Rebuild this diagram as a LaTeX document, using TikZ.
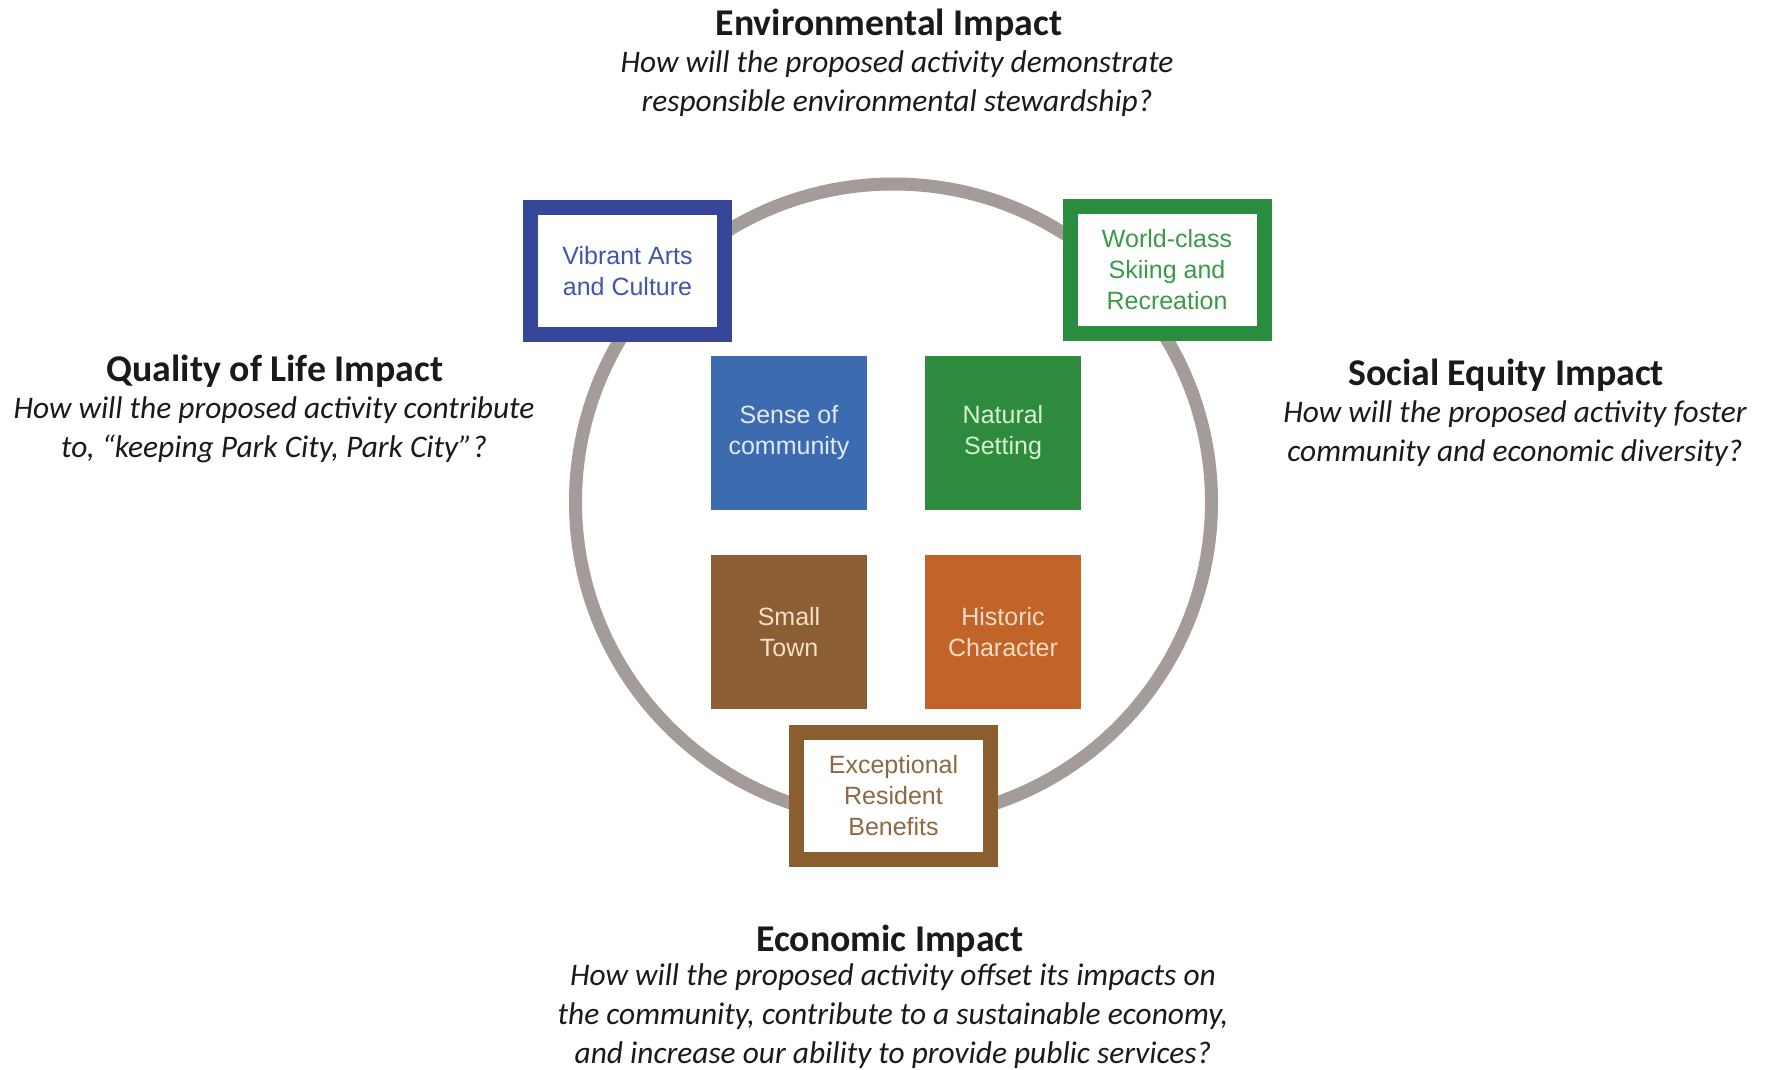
\documentclass[tikz,border=0pt]{standalone}
\usepackage{fontspec}
\setmainfont{Carlito}
\newfontfamily\boxfont{Liberation Sans}
\definecolor{ringgray}{HTML}{A39C99}
\definecolor{navyb}{HTML}{36469A}
\definecolor{navyt}{HTML}{3F55AE}
\definecolor{grnb}{HTML}{2A8C3E}
\definecolor{grnt}{HTML}{3A9A48}
\definecolor{sensefill}{HTML}{3D6BB0}
\definecolor{sensetxt}{HTML}{E2EAF8}
\definecolor{natfill}{HTML}{2E8B3E}
\definecolor{nattxt}{HTML}{D8F2D0}
\definecolor{townfill}{HTML}{8B5E34}
\definecolor{towntxt}{HTML}{F6E0C4}
\definecolor{histfill}{HTML}{C2632A}
\definecolor{histtxt}{HTML}{F9DCC4}
\definecolor{brnb}{HTML}{8B5E30}
\definecolor{brnt}{HTML}{8E6842}
\definecolor{txt}{HTML}{1A1A1A}
\begin{document}
\begin{tikzpicture}[x=1pt,y=-1pt,
  framebox/.style={draw, fill=white, line width=15pt, minimum width=194pt, minimum height=127pt, inner sep=0pt, align=center,
    font=\boxfont\fontsize{25}{31}\selectfont},
  solidbox/.style={minimum width=156pt, minimum height=154pt, inner sep=0pt, align=center,
    font=\boxfont\fontsize{25}{31}\selectfont},
  title/.style={font=\bfseries\fontsize{37.8}{42}\selectfont, text=txt, inner sep=0pt},
  question/.style={font=\itshape\fontsize{31.4}{39}\selectfont, text=txt, inner sep=0pt, align=center}]
\useasboundingbox[fill=white] (0,0) rectangle (1765,1070);
% ring
\node[draw=ringgray, line width=13pt, circle, minimum size=636pt, inner sep=0pt] (ring) at (893.5,502) {};
% framed boxes
\node[framebox, draw=navyb, text=navyt] (arts) at (627.5,271) {Vibrant Arts\\and Culture};
\node[framebox, draw=grnb, text=grnt] (ski) at (1167,270) {World-class\\Skiing and\\Recreation};
\node[framebox, draw=brnb, text=brnt] (benefits) at (893.5,795.5) {Exceptional\\Resident\\Benefits};
% solid boxes
\node[solidbox, fill=sensefill, text=sensetxt] (sense) at (789,433) {Sense of\\community};
\node[solidbox, fill=natfill, text=nattxt] (natural) at (1003,433) {Natural\\Setting};
\node[solidbox, fill=townfill, text=towntxt] (town) at (789,632) {Small\\Town};
\node[solidbox, fill=histfill, text=histtxt] (historic) at (1003,632) {Historic\\Character};
% texts
\node[title] (envT) at (889,25) {Environmental Impact};
\node[question] (envQ) at (897,84) {How will the proposed activity demonstrate\\responsible environmental stewardship?};
\node[title] (qolT) at (275,371) {Quality of Life Impact};
\node[question] (qolQ) at (274,430) {How will the proposed activity contribute\\to, “keeping Park City, Park City”?};
\node[title] (socT) at (1506,375) {Social Equity Impact};
\node[question] (socQ) at (1515,434) {How will the proposed activity foster\\community and economic diversity?};
\node[title] (ecoT) at (890,941) {Economic Impact};
\node[question] (ecoQ) at (893,1016) {How will the proposed activity offset its impacts on\\the community, contribute to a sustainable economy,\\and increase our ability to provide public services?};
\end{tikzpicture}
\end{document}
